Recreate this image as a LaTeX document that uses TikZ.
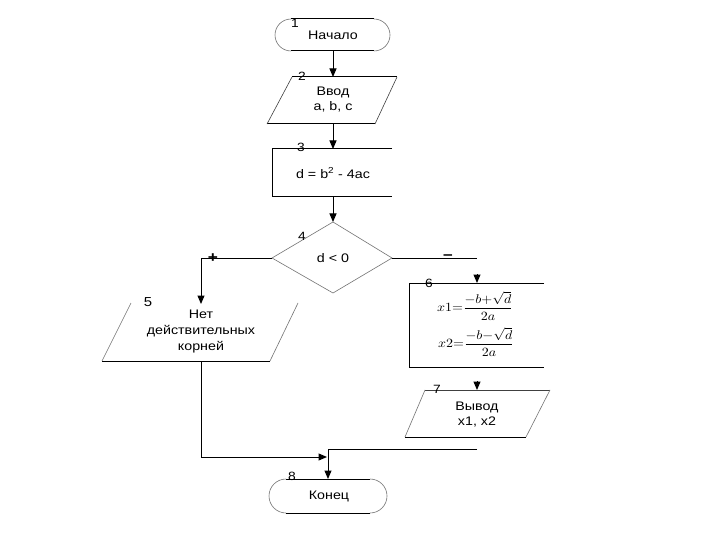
\documentclass[tikz,border=0pt]{standalone}
\usepackage{graphicx}
\usepackage{fontspec}
\setmainfont[FakeStretch=1.15]{Liberation Sans}
\usetikzlibrary{arrows.meta}
\begin{document}
\begin{tikzpicture}[x=1pt,y=-1pt,
  line/.style={black, line width=1pt},
  faint/.style={black!55, line width=0.6pt},
  arr/.style={line, -{Triangle[width=7pt,length=8.5pt]}},
  txt/.style={font=\fontsize{12.4}{15}\selectfont, align=center, inner sep=0pt},
  num/.style={font=\fontsize{12}{13}\selectfont, inner sep=0pt},
  sign/.style={font=\fontsize{15}{15}\selectfont\bfseries, inner sep=0pt},
  frm/.style={inner sep=0pt, font=\fontsize{11}{13}\selectfont}]
\useasboundingbox (0,0) rectangle (720,540);
\fill[white] (0,0) rectangle (720,540);

% ---------- connection points ----------
\coordinate (b1s) at (333,51);
\coordinate (b2n) at (333,77);
\coordinate (b2s) at (333,124);
\coordinate (b3n) at (333,149);
\coordinate (b3s) at (333,197);
\coordinate (b4n) at (333,222);
\coordinate (b4w) at (272,258);
\coordinate (b4e) at (392,258);
\coordinate (b4s) at (333,293);
\coordinate (lcorner) at (201,258);
\coordinate (b5n) at (201,304);
\coordinate (b5s) at (201,361);
\coordinate (rend) at (477,258);
\coordinate (b6a) at (477,274);
\coordinate (b6n) at (477,283);
\coordinate (b7a) at (477,381);
\coordinate (b7n) at (477,390);
\coordinate (ljoin) at (201,457);
\coordinate (jarr) at (327,457);
\coordinate (rstart) at (477,449);
\coordinate (rjoin) at (328,449);
\coordinate (b8n) at (328,479);

% ---------- block 1: start ----------
\draw[line] (291,19) -- (374,19) (291,51) -- (374,51);
\draw[faint] (291,19) arc[start angle=270, end angle=90, radius=16];
\draw[faint] (374,19) arc[start angle=270, end angle=450, radius=16];
\node[txt] (t1) at (333,35) {Начало};
\node[num] (n1) at (295,23) {1};

% ---------- block 2: input ----------
\draw[line] (292,77) -- (397,77) (267,124) -- (375,124);
\draw[faint, black!75] (292,77) -- (267,124) (397,77) -- (375,124);
\node[txt] (t2) at (333,100) {Ввод\\a, b, c};
\node[num] (n2) at (302,76) {2};

% ---------- block 3: process ----------
\draw[line] (392,149) -- (272,149) -- (272,197) -- (392,197);
\node[txt] (t3) at (333,173) {d = b\textsuperscript{2} - 4ac};
\node[num] (n3) at (301,147) {3};

% ---------- block 4: decision ----------
\draw[faint] (b4n) -- (b4e) -- (b4s) -- (b4w) -- cycle;
\node[txt] (t4) at (333,258) {d < 0};
\node[num] (n4) at (302,236) {4};
\node[sign] (plus) at (213,258) {+};
\node[sign] (minus) at (448,257) {–};

% ---------- block 5: output (no roots) ----------
\draw[line] (102,361) -- (270,361);
\draw[faint] (131,303) -- (102,361) (298,303) -- (270,361);
\node[txt, font=\fontsize{12.4}{16}\selectfont] (t5) at (201,332) {Нет\\действительных\\корней};
\node[num, font=\fontsize{13}{14}\selectfont] (n5) at (148,302) {5};

% ---------- block 6: roots ----------
\draw[line] (544,283) -- (409,283) -- (409,367) -- (544,367);
\node[frm] (f1) at (475,306) {\scalebox{1.28}[1.15]{$x1{=}\displaystyle\frac{{-}b{+}\sqrt{d}}{2a}$}};
\node[frm] (f2) at (476,342) {\scalebox{1.28}[1.15]{$x2{=}\displaystyle\frac{{-}b{-}\sqrt{d}}{2a}$}};
\node[num] (n6) at (429,283) {6};

% ---------- block 7: output ----------
\draw[faint, black!75] (425,390) -- (550,390);
\draw[line] (405,437) -- (526,437);
\draw[faint] (425,390) -- (405,437) (550,390) -- (526,437);
\node[txt] (t7) at (477,415) {Вывод\\x1, x2};
\node[num] (n7) at (437,389) {7};

% ---------- block 8: end ----------
\draw[line] (286,479) -- (370,479) (286,513) -- (370,513);
\draw[faint] (286,479) arc[start angle=270, end angle=90, radius=17];
\draw[faint] (370,479) arc[start angle=270, end angle=450, radius=17];
\node[txt] (t8) at (329,496) {Конец};
\node[num] (n8) at (292,476) {8};

% ---------- connectors ----------
\draw[arr] (b1s) -- (b2n);
\draw[arr] (b2s) -- (b3n);
\draw[arr] (b3s) -- (b4n);
\draw[arr] (b4w) -- (lcorner) -- (b5n);
\draw[line] (b4e) -- (rend);
\draw[arr] (b6a) -- (b6n);
\draw[arr] (b7a) -- (b7n);
\draw[arr] (b5s) -- (ljoin) -- (jarr);
\draw[arr] (rstart) -- (rjoin) -- (b8n);
\end{tikzpicture}
\end{document}
